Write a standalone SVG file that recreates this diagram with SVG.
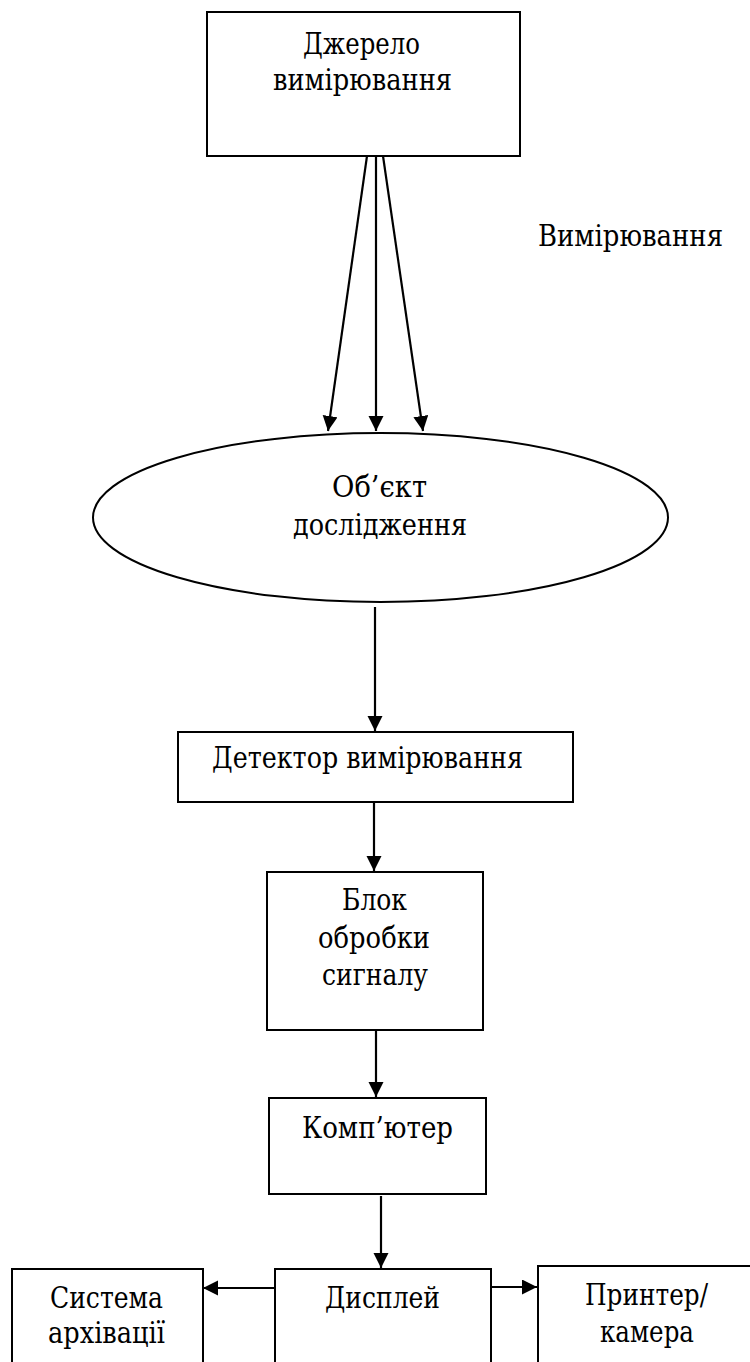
<svg xmlns="http://www.w3.org/2000/svg" width="750" height="1362" viewBox="0 0 750 1362">
<style>
.box{fill:#fff;stroke:#000;stroke-width:2}
text{font-family:'DejaVu Serif','Liberation Serif','Noto Serif',serif;font-size:29px;fill:#000;text-anchor:middle}
.c{stroke:#000;stroke-width:2.2;fill:none}
</style>
<defs>
<marker id="ah" markerUnits="userSpaceOnUse" markerWidth="20" markerHeight="20" refX="15" refY="7.5" orient="auto" viewBox="0 0 20 20">
<path d="M0,0 L15,7.5 L0,15 z" fill="#000"/>
</marker>
</defs>
<rect width="750" height="1362" fill="#fff"/>
<g id="connectors">
<line class="c" x1="367" y1="156" x2="328" y2="431" marker-end="url(#ah)"/>
<line class="c" x1="376" y1="156" x2="376" y2="431" marker-end="url(#ah)"/>
<line class="c" x1="383" y1="156" x2="423" y2="431" marker-end="url(#ah)"/>
<line class="c" x1="375" y1="607" x2="375" y2="731" marker-end="url(#ah)"/>
<line class="c" x1="374" y1="803" x2="374" y2="871" marker-end="url(#ah)"/>
<line class="c" x1="376" y1="1031" x2="376" y2="1097" marker-end="url(#ah)"/>
<line class="c" x1="381" y1="1196" x2="381" y2="1268" marker-end="url(#ah)"/>
<line class="c" x1="274" y1="1288" x2="203" y2="1288" marker-end="url(#ah)"/>
<line class="c" x1="491" y1="1287" x2="537" y2="1287" marker-end="url(#ah)"/>
</g>
<g id="source">
<rect class="box" x="207" y="12" width="313" height="144"/>
<text x="361.5" y="54" textLength="117" lengthAdjust="spacingAndGlyphs">Джерело</text>
<text x="362.5" y="90" textLength="179" lengthAdjust="spacingAndGlyphs">вимірювання</text>
</g>
<g id="label-measure">
<text x="630.5" y="246" textLength="185" lengthAdjust="spacingAndGlyphs">Вимірювання</text>
</g>
<g id="object">
<ellipse class="box" cx="380.5" cy="517.5" rx="287.5" ry="84.5"/>
<text x="379.5" y="497" textLength="95" lengthAdjust="spacingAndGlyphs">Об’єкт</text>
<text x="380" y="535" textLength="174" lengthAdjust="spacingAndGlyphs">дослідження</text>
</g>
<g id="detector">
<rect class="box" x="178" y="732" width="395" height="70"/>
<text x="367.5" y="768" textLength="311" lengthAdjust="spacingAndGlyphs">Детектор вимірювання</text>
</g>
<g id="processing">
<rect class="box" x="267" y="872" width="216" height="158"/>
<text x="374.5" y="910" textLength="65" lengthAdjust="spacingAndGlyphs">Блок</text>
<text x="374" y="948" textLength="112" lengthAdjust="spacingAndGlyphs">обробки</text>
<text x="375" y="985" textLength="106" lengthAdjust="spacingAndGlyphs">сигналу</text>
</g>
<g id="computer">
<rect class="box" x="269" y="1098" width="217" height="96"/>
<text x="377.5" y="1138" textLength="151" lengthAdjust="spacingAndGlyphs">Комп’ютер</text>
</g>
<g id="display">
<rect class="box" x="275" y="1269" width="216" height="110"/>
<text x="382.5" y="1308" textLength="115" lengthAdjust="spacingAndGlyphs">Дисплей</text>
</g>
<g id="archive">
<rect class="box" x="12" y="1269" width="191" height="110"/>
<text x="106.5" y="1308" textLength="113" lengthAdjust="spacingAndGlyphs">Система</text>
<text x="106.5" y="1343" textLength="117" lengthAdjust="spacingAndGlyphs">архівації</text>
</g>
<g id="printer">
<rect class="box" x="538" y="1266" width="220" height="110"/>
<text x="646.5" y="1305" textLength="123" lengthAdjust="spacingAndGlyphs">Принтер/</text>
<text x="647" y="1342" textLength="94" lengthAdjust="spacingAndGlyphs">камера</text>
</g>
</svg>
